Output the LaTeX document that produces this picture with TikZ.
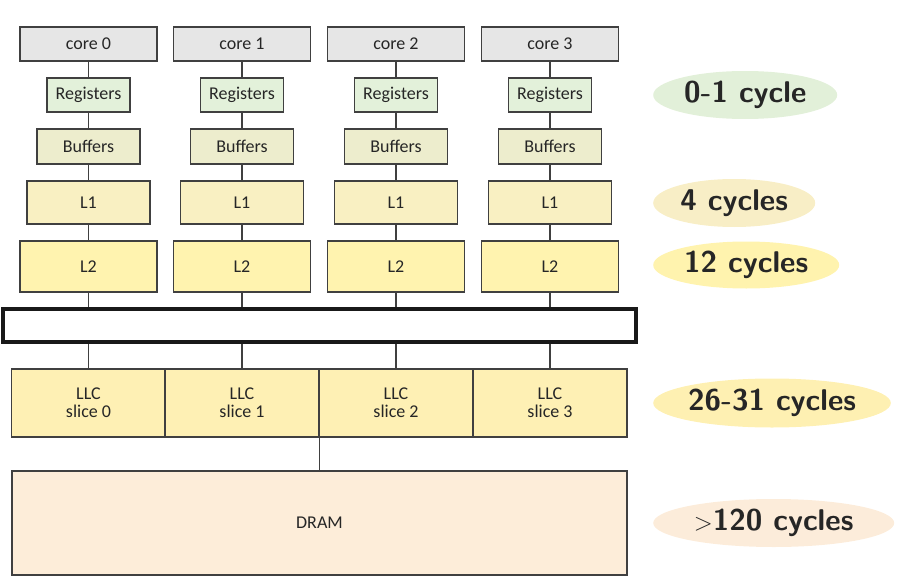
\documentclass[tikz,border=0pt]{standalone}
\usepackage{fontspec}
\newfontfamily\boxfont{Carlito}
\usetikzlibrary{shapes.geometric}
\definecolor{edge}{HTML}{404040}
\definecolor{corefill}{HTML}{E6E6E6}
\definecolor{regfill}{HTML}{E3F1DA}
\definecolor{buffill}{HTML}{EDEDCD}
\definecolor{lonefill}{HTML}{F9F0C2}
\definecolor{ltwofill}{HTML}{FFF3AF}
\definecolor{llcfill}{HTML}{FEF0B4}
\definecolor{dramfill}{HTML}{FDEDD9}
\definecolor{ellgreen}{HTML}{E2F0D9}
\definecolor{ellone}{HTML}{F8EEC6}
\definecolor{elltwo}{HTML}{FFF3AE}
\definecolor{ellllc}{HTML}{FEF0B2}
\definecolor{elldram}{HTML}{FCECDA}
\tikzset{
  unitbox/.style={draw=edge, line width=1.2pt, inner sep=0pt, rectangle,
    font=\boxfont\fontsize{18}{19}\selectfont, text=black!85},
  conn/.style={draw=edge, line width=1.2pt},
  lat/.style={ellipse, inner sep=0pt, anchor=west,
    font=\sffamily\bfseries\fontsize{30}{32}\selectfont, text=black!85}
}
\begin{document}
\begin{tikzpicture}[x=1pt,y=-1pt]
\useasboundingbox (0,0) rectangle (900,586);
\node[unitbox, line width=3.5pt, draw=black!90, minimum width=633pt, minimum height=33pt] (bus) at (319.5,325.5) {};
\node[unitbox, fill=dramfill, minimum width=615pt, minimum height=104pt] (dram) at (319.5,523) {DRAM};
\foreach \i/\cx in {0/88.5,1/242,2/396,3/550}{
  \node[unitbox, fill=corefill, minimum width=137pt, minimum height=34pt] (core\i) at (\cx,44) {core \i};
  \node[unitbox, fill=regfill, minimum width=83pt, minimum height=34pt] (reg\i) at (\cx,95) {Registers};
  \node[unitbox, fill=buffill, minimum width=103pt, minimum height=35pt] (buf\i) at (\cx,146.5) {Buffers};
  \node[unitbox, fill=lonefill, minimum width=123pt, minimum height=43pt] (lone\i) at (\cx,202.5) {L1};
  \node[unitbox, fill=ltwofill, minimum width=137pt, minimum height=51pt] (ltwo\i) at (\cx,266.5) {L2};
  \node[unitbox, fill=llcfill, minimum width=154pt, minimum height=68pt, align=center, font=\boxfont\fontsize{18}{18}\selectfont] (llc\i) at (\cx,403) {LLC\\slice \i};
  \draw[conn] (core\i) -- (reg\i);
  \draw[conn] (reg\i) -- (buf\i);
  \draw[conn] (buf\i) -- (lone\i);
  \draw[conn] (lone\i) -- (ltwo\i);
  \draw[conn] (ltwo\i.south) -- (ltwo\i.south |- bus.north);
  \draw[conn] (llc\i.north |- bus.south) -- (llc\i.north);
}
\draw[conn] (dram.north |- llc1.south) -- (dram.north);
\node[lat, fill=ellgreen, minimum width=184pt, minimum height=48pt] (lreg) at (653,95) {0-1 cycle};
\node[lat, fill=ellone, minimum width=162pt, minimum height=48pt] (lone) at (653,203) {4 cycles};
\node[lat, fill=elltwo, minimum width=186pt, minimum height=47pt] (ltwo) at (653,265) {12 cycles};
\node[lat, fill=ellllc, minimum width=236pt, minimum height=49pt] (lllc) at (653,403) {26-31 cycles};
\node[lat, fill=elldram, minimum width=241pt, minimum height=48pt] (ldram) at (653,523) {$>$120 cycles};
\end{tikzpicture}
\end{document}
